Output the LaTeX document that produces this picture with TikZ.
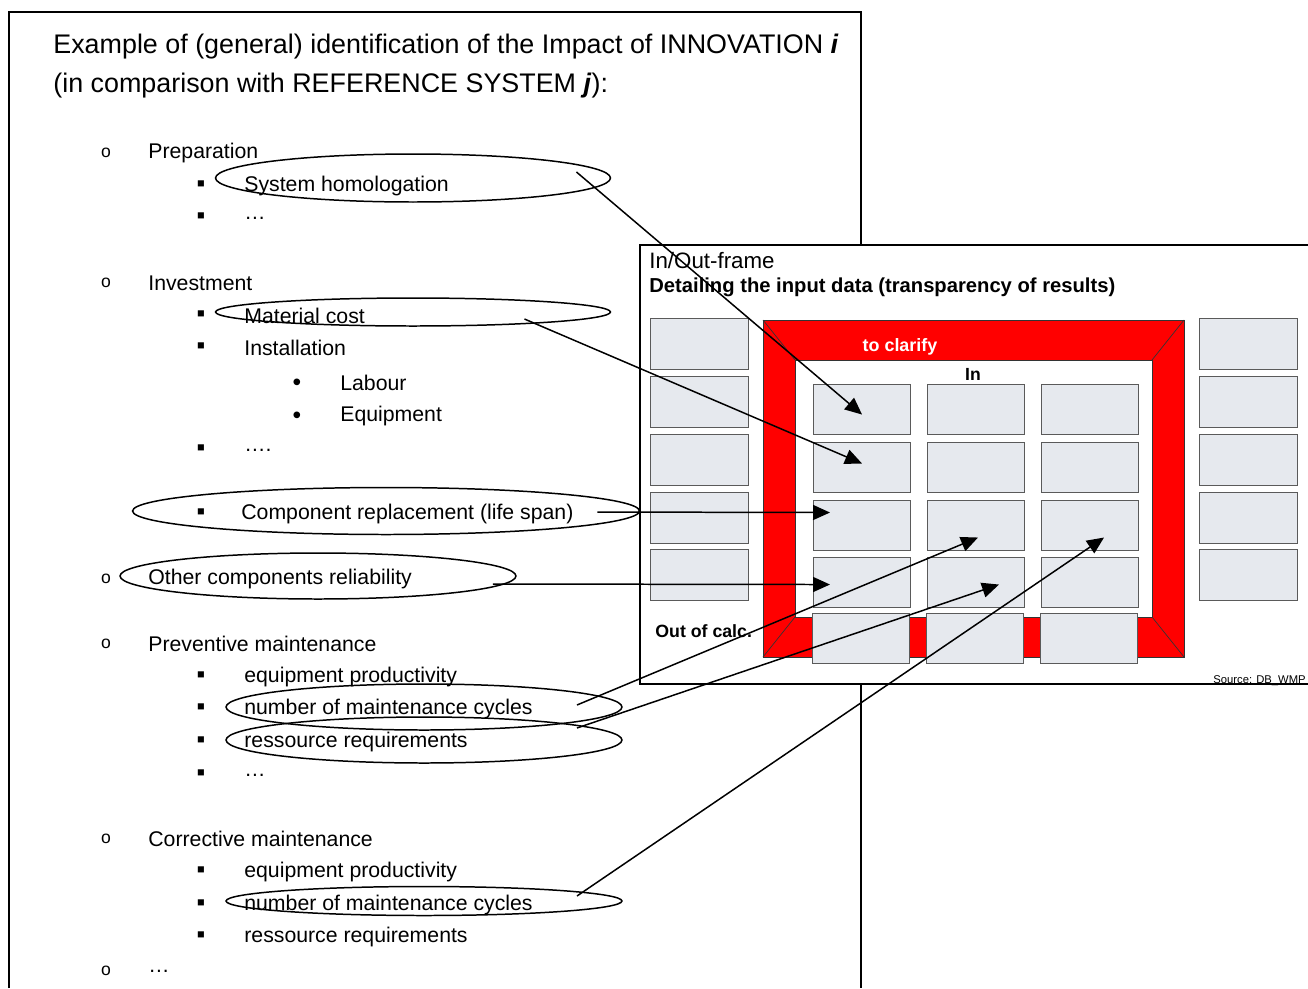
\documentclass[tikz,border=0pt]{standalone}
\usepackage{fontspec}
\setmainfont{Liberation Sans}
\usepackage{xcolor}
\usetikzlibrary{shapes,arrows.meta,positioning,calc}

\definecolor{cellgray}{RGB}{230,233,238}
\definecolor{cellline}{RGB}{90,90,90}

\tikzset{
  txt/.style={anchor=west, inner sep=0pt, yshift=-0.04cm, font=\fontsize{12.1}{14}\selectfont},
  bul/.style={inner sep=0pt, yshift=-0.04cm, font=\fontsize{12.1}{14}\selectfont},
  ring/.style={draw, ellipse, line width=0.85pt, inner sep=0pt, outer sep=0pt},
  cell/.style={draw=cellline, fill=cellgray, line width=0.6pt, anchor=north west,
    minimum width=1.94cm, minimum height=1.0cm, inner sep=0pt},
  side/.style={cell, minimum width=1.96cm, minimum height=1.02cm},
  arr/.style={-{Triangle[length=0.34cm,width=0.3cm]}, line width=0.85pt},
}

\begin{document}
\begin{tikzpicture}[x=0.02cm, y=-0.02cm]
    \useasboundingbox (0,0) rectangle (1308,988);

    % page with the list
    \draw[line width=1.2pt] (9,988) -- (9,12) -- (861,12) -- (861,988);
    \node[anchor=west, inner sep=0pt, font=\fontsize{15.3}{18}\selectfont] (title1) at (53,47)
        {Example of (general) identification of the Impact of INNOVATION \textbf{\textit{i}}};
    \node[anchor=west, inner sep=0pt, font=\fontsize{15.3}{18}\selectfont] (title2) at (53,86)
        {(in comparison with REFERENCE SYSTEM \textbf{\textit{j}}):};

    \foreach \y [count=\i] in {151,281,577,642,837,969}
        \node[bul, font=\fontsize{10}{12}\selectfont] (o\i) at (106,\y) {o};
    \foreach \y [count=\i] in {184,216,314,346,448,512,675,707,740,773,870,903,935}
        \node[bul, font=\fontsize{14}{14}\selectfont] (sq\i) at (201,\y) {▪};
    \foreach \y [count=\i] in {383,416}
        \node[bul, font=\fontsize{14}{14}\selectfont] (dot\i) at (297,\y) {•};

    \node[txt] (prep) at (148,151) {Preparation};
    \node[txt] (homtxt) at (244,184) {System homologation};
    \node[txt] (dots1) at (244,216) {…};
    \node[txt] (invest) at (148,281) {Investment};
    \node[txt] (mattxt) at (244,314) {Material cost};
    \node[txt] (install) at (244,346) {Installation};
    \node[txt] (labour) at (340,381) {Labour};
    \node[txt] (equip) at (340,414) {Equipment};
    \node[txt] (dots2) at (244,448) {….};
    \node[txt] (comptxt) at (241,512) {Component replacement (life span)};
    \node[txt] (othtxt) at (148,577) {Other components reliability};
    \node[txt] (prev) at (148,642) {Preventive maintenance};
    \node[txt] (prevprod) at (244,675) {equipment productivity};
    \node[txt] (prevcyctxt) at (244,707) {number of maintenance cycles};
    \node[txt] (prevrestxt) at (244,740) {ressource requirements};
    \node[txt] (dots3) at (244,773) {…};
    \node[txt] (corr) at (148,837) {Corrective maintenance};
    \node[txt] (corrprod) at (244,870) {equipment productivity};
    \node[txt] (corrcyctxt) at (244,903) {number of maintenance cycles};
    \node[txt] (corrres) at (244,935) {ressource requirements};
    \node[txt] (dots4) at (148,969) {…};

    % marking ellipses
    \node[ring, minimum width=7.9cm, minimum height=0.96cm] (homol) at (413,178) {};
    \node[ring, minimum width=7.9cm, minimum height=0.56cm] (matcost) at (413,312) {};
    \node[ring, minimum width=10.14cm, minimum height=0.94cm] (compl) at (386,511) {};
    \node[ring, minimum width=7.92cm, minimum height=0.92cm] (other) at (318,576) {};
    \node[ring, minimum width=7.92cm, minimum height=0.92cm] (prevcyc) at (424,707) {};
    \node[ring, minimum width=7.92cm, minimum height=0.92cm] (prevres) at (424,740) {};
    \node[ring, minimum width=7.92cm, minimum height=0.58cm] (corrcyc) at (424,901) {};

    % In/Out-frame
    \fill[white] (640,245) rectangle (1308,684);
    \draw[line width=1.1pt] (1308,245) -- (640,245) -- (640,684) -- (1308,684);
    \node[anchor=west, inner sep=0pt, font=\fontsize{12.7}{15}\selectfont] (frametitle) at (649,261) {In/Out-frame};
    \node[anchor=west, inner sep=0pt, font=\bfseries\fontsize{11.5}{14}\selectfont] (framesub) at (649,287)
        {Detailing the input data (transparency of results)};

    \fill[red, even odd rule] (763,320) rectangle (1184,657) (795,360) rectangle (1152,617);
    \draw[line width=0.4pt, black!80] (763,320) rectangle (1184,657) (795,360) rectangle (1152,617);
    \draw[line width=0.4pt, black!80] (763,320) -- (795,360) (1184,320) -- (1152,360)
        (763,657) -- (795,617) (1184,657) -- (1152,617);
    \node[text=white, font=\bfseries\fontsize{10.2}{12}\selectfont] (clarify) at (900,347) {to clarify};
    \node[font=\bfseries\fontsize{10}{12}\selectfont] (intxt) at (973,374) {In};
    \node[anchor=west, inner sep=0pt, font=\bfseries\fontsize{10.1}{12}\selectfont] (outcalc) at (655,631) {Out of calc.};
    \node[anchor=base east, inner sep=0pt, font=\fontsize{6.4}{8}\selectfont] (source) at (1306,683) {Source: DB\_WMP};

    \foreach \r/\y in {1/384,2/442,3/500,4/557}
        \foreach \c/\x in {1/813,2/927,3/1041}
            \node[cell] (c\r\c) at (\x,\y) {};
    \foreach \c/\x in {1/812,2/926,3/1040}
        \node[cell] (c5\c) at (\x,613) {};
    \foreach \r/\y in {1/318,2/376,3/434,4/492,5/549} {
        \node[side] (l\r) at (650,\y) {};
        \node[side] (r\r) at (1199,\y) {};
    }

    % links into the frame
    \draw[arr] ([shift={(-34,-6)}]homol.east) -- ([shift={(0,5)}]c11.center);
    \draw[arr] ([shift={(-86,7)}]matcost.east) -- ([shift={(0,-4)}]c21.center);
    \draw[arr] ([shift={(-42,1)}]compl.east) -- ([shift={(17,-13)}]c31.west);
    \draw[arr] ([shift={(-23,8)}]other.east) -- ([shift={(17,2)}]c41.west);
    \draw[arr] ([shift={(-45,-2)}]prevcyc.east) -- ([shift={(2,12)}]c32.center);
    \draw[arr] ([shift={(-45,-12)}]prevres.east) -- ([shift={(23,2)}]c42.center);
    \draw[arr] ([shift={(-45,-5)}]corrcyc.east) -- ([shift={(14,12)}]c33.center);
\end{tikzpicture}
\end{document}
